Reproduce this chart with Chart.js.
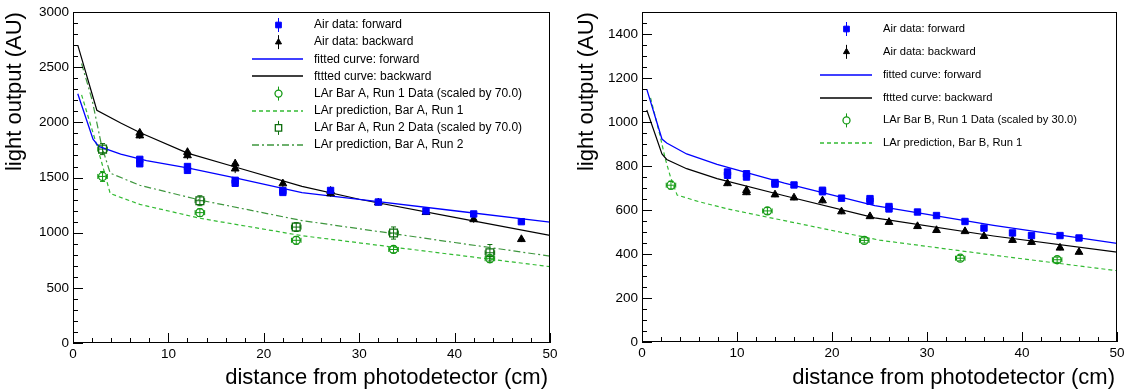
<!DOCTYPE html>
<html><head><meta charset="utf-8">
<script src="https://cdn.jsdelivr.net/npm/chart.js@4"></script>
<style>
html,body{margin:0;padding:0;background:#fff;overflow:hidden;}
#wrapL{position:absolute;left:0;top:0;width:564px;height:392px;}
#wrapR{position:absolute;left:564px;top:0;width:565px;height:392px;}
</style></head><body>
<div id="wrapL"><canvas id="cL" width="564" height="392"></canvas></div>
<div id="wrapR"><canvas id="cR" width="565" height="392"></canvas></div>
<script>
// ---------------- DATA ----------------
const xTicks = [0, 10, 20, 30, 40, 50];
const yTicksLeft = [0, 500, 1000, 1500, 2000, 2500, 3000];
const yTicksRight = [0, 200, 400, 600, 800, 1000, 1200, 1400];
const xTitle = "distance from photodetector (cm)";
const yTitle = "light output (AU)";

// Left panel (Bar A)
const legendLeft = ["Air data: forward", "Air data: backward", "fitted curve: forward", "fttted curve: backward",
  "LAr Bar A, Run 1 Data (scaled by 70.0)", "LAr prediction, Bar A, Run 1",
  "LAr Bar A, Run 2 Data (scaled by 70.0)", "LAr prediction, Bar A, Run 2"];
const L_fwdX = [7, 7, 12, 12, 17, 17, 22, 22, 27, 32, 37, 42, 47];
const L_fwdY = [1665, 1625, 1600, 1565, 1475, 1448, 1382, 1365, 1383, 1278, 1197, 1170, 1100];
const L_fwdEY = [25, 25, 25, 25, 22, 22, 22, 22, 20, 20, 20, 20, 20];
const L_bwdX = [7, 7, 12, 12, 17, 17, 22, 27, 27, 32, 37, 42, 47];
const L_bwdY = [1905, 1880, 1730, 1700, 1625, 1580, 1445, 1378, 1355, 1272, 1185, 1120, 940];
const L_bwdEY = [30, 30, 35, 35, 40, 40, 30, 30, 30, 25, 25, 30, 25];
const L_run1X = [3.1, 13.3, 23.4, 33.6, 43.7];
const L_run1Y = [1510, 1182, 931, 848, 764];
const L_run1EY = [45, 35, 35, 30, 35];
const L_run2X = [3.1, 13.3, 23.4, 33.6, 43.7];
const L_run2Y = [1758, 1290, 1051, 997, 818];
const L_run2EY = [50, 45, 40, 55, 75];
const L_fitFwdX = [0.5, 2.1, 2.7, 5, 7.7, 12, 17, 24, 30, 40, 50];
const L_fitFwdY = [2260, 1848, 1782, 1713, 1654, 1588, 1498, 1364, 1303, 1199, 1095];
const L_fitBwdX = [0.5, 2.5, 5, 7, 12, 17, 24, 30, 40, 50];
const L_fitBwdY = [2700, 2110, 1995, 1908, 1722, 1596, 1420, 1303, 1139, 976];
const L_pred1X = [0.9, 2.3, 3, 3.9, 7, 13.3, 24, 33.6, 40, 50];
const L_pred1Y = [2250, 1848, 1639, 1355, 1257, 1131, 973, 869, 800, 692];
const L_pred2X = [0.9, 2, 3, 3.9, 7, 13.3, 24, 33.6, 40, 50];
const L_pred2Y = [2534, 2205, 1788, 1540, 1430, 1296, 1110, 991, 911, 788];

// Right panel (Bar B)
const legendRight = ["Air data: forward", "Air data: backward", "fitted curve: forward", "fttted curve: backward",
  "LAr Bar B, Run 1 Data (scaled by 30.0)", "LAr prediction, Bar B, Run 1"];
const R_fwdX = [9, 9, 11, 11, 14, 14, 16, 19, 19, 21, 24, 24, 26, 26, 29, 31, 34, 36, 39, 41, 44, 46];
const R_fwdY = [773, 758, 765, 750, 725, 718, 714, 690, 683, 654, 652, 640, 616, 605, 591, 575, 548, 518, 496, 484, 484, 473];
const R_bwdX = [9, 11, 11, 14, 16, 19, 21, 24, 26, 29, 31, 34, 36, 39, 41, 44, 46];
const R_bwdY = [721, 690, 680, 670, 656, 643, 593, 571, 545, 526, 508, 503, 481, 463, 454, 428, 409];
const R_run1X = [3.05, 13.2, 23.4, 33.5, 43.7];
const R_run1Y = [713, 596, 462, 381, 374];
const R_run1EY = [18, 15, 12, 12, 12];
const R_fitFwdX = [0.5, 2.1, 2.6, 4.7, 7.9, 15, 24.5, 37, 50];
const R_fitFwdY = [1150, 923, 905, 855, 808, 722, 620, 530, 448];
const R_fitBwdX = [0.5, 2.1, 2.6, 4.7, 7.9, 15, 24.5, 37, 50];
const R_fitBwdY = [1055, 855, 830, 788, 743, 665, 564, 482, 409];
const R_predX = [0.9, 1.9, 2.45, 3, 3.7, 6, 9, 25, 37, 50];
const R_predY = [1110, 938, 833, 750, 668, 638, 605, 463, 395, 324];

// ---------------- STYLE / HELPERS ----------------
const FONT = '"Liberation Sans", Arial, Helvetica, sans-serif';
const BLUE = '#0000ff', BLACK = '#000000', GCIRC = '#129912', GSQ = '#0e6e0e', GDASH = '#33bb33', GDD = '#3e963e';
const CLEAR = 'rgba(0,0,0,0)';
const DASH = [4, 3], DASHDOT = [7, 3, 2, 3];

function pts(xs, ys) { return xs.map((x, i) => ({ x: x, y: ys[i] })); }
function fill(arr, v) { return arr.map(() => v); }

function makeFramePlugin(sp) {
  return {
    id: 'frameTicks',
    afterDraw(chart) {
      const { ctx, chartArea: a } = chart;
      const xs = chart.scales.x, ys = chart.scales.y;
      ctx.save();
      ctx.strokeStyle = '#000'; ctx.lineWidth = 1; ctx.setLineDash([]);
      ctx.strokeRect(Math.round(a.left) + 0.5, Math.round(a.top) + 0.5, Math.round(a.right - a.left) - 1, Math.round(a.bottom - a.top) - 1);
      ctx.beginPath();
      for (let v = xs.min; v <= xs.max + 1e-9; v += sp.xMinor) {
        const px = Math.round(xs.getPixelForValue(v)) + 0.5;
        const major = Math.abs(v / sp.xMajor - Math.round(v / sp.xMajor)) < 1e-6;
        const len = major ? 10 : 5;
        ctx.moveTo(px, a.bottom); ctx.lineTo(px, a.bottom - len);
      }
      for (let v = ys.min; v <= ys.max + 1e-9; v += sp.yMinor) {
        const py = Math.round(ys.getPixelForValue(v)) + 0.5;
        const major = Math.abs(v / sp.yMajor - Math.round(v / sp.yMajor)) < 1e-6;
        const len = major ? 10 : 5;
        ctx.moveTo(a.left, py); ctx.lineTo(a.left + len, py);
      }
      ctx.stroke();
      // axis titles
      ctx.fillStyle = '#000';
      ctx.font = '22px ' + FONT;
      ctx.textAlign = 'right'; ctx.textBaseline = 'middle';
      ctx.fillText(xTitle, a.right - 2, 378);
      ctx.save();
      ctx.translate(sp.yTitleX, a.top);
      ctx.rotate(-Math.PI / 2);
      ctx.textAlign = 'right'; ctx.textBaseline = 'middle';
      ctx.fillText(yTitle, 0, 0);
      ctx.restore();
      ctx.restore();
      // legend
      const lg = sp.legend;
      lg.items.forEach((it, i) => {
        const y = lg.y0 + i * lg.dy;
        ctx.save();
        ctx.font = lg.font + 'px ' + FONT;
        ctx.textAlign = 'left'; ctx.textBaseline = 'middle';
        ctx.fillStyle = '#000';
        ctx.fillText(it.label, lg.tx, y);
        ctx.restore();
        ctx.save();
        if (it.kind === 'line') {
          ctx.strokeStyle = it.color;
          ctx.lineWidth = 1.4;
          ctx.setLineDash(it.dash || []);
          ctx.beginPath();
          ctx.moveTo(lg.lx1, Math.round(y));
          ctx.lineTo(lg.lx2, Math.round(y));
          ctx.stroke();
        } else {
          ctx.strokeStyle = it.color;
          ctx.lineWidth = 1;
          ctx.setLineDash([]);
          ctx.beginPath();
          ctx.moveTo(lg.mx + 0.5, y - 7); ctx.lineTo(lg.mx + 0.5, y + 7);
          ctx.stroke();
          ctx.fillStyle = it.fill;
          ctx.lineWidth = it.bw || 1;
          Chart.helpers.drawPoint(ctx, { pointStyle: it.style, radius: it.r, borderWidth: it.bw || 1, rotation: 0 }, lg.mx + 0.5, y);
        }
        ctx.restore();
      });
    }
  };
}

const errPlugin = {
  id: 'errBars',
  beforeDatasetsDraw(chart) {
    const { ctx } = chart;
    const xs = chart.scales.x, ys = chart.scales.y;
    ctx.save();
    chart.data.datasets.forEach(ds => {
      if (!ds.errY) return;
      ctx.strokeStyle = ds.errColor; ctx.lineWidth = 1;
      ctx.beginPath();
      ds.data.forEach((p, i) => {
        const px = xs.getPixelForValue(p.x), py = ys.getPixelForValue(p.y);
        const y1 = ys.getPixelForValue(p.y - ds.errY[i]), y2 = ys.getPixelForValue(p.y + ds.errY[i]);
        const x1 = xs.getPixelForValue(p.x - ds.errX[i]), x2 = xs.getPixelForValue(p.x + ds.errX[i]);
        ctx.moveTo(px, y1); ctx.lineTo(px, y2);
        ctx.moveTo(x1, py); ctx.lineTo(x2, py);
        if (ds.caps) {
          ctx.moveTo(px - 2.5, y1); ctx.lineTo(px + 2.5, y1);
          ctx.moveTo(px - 2.5, y2); ctx.lineTo(px + 2.5, y2);
          ctx.moveTo(x1, py - 2.5); ctx.lineTo(x1, py + 2.5);
          ctx.moveTo(x2, py - 2.5); ctx.lineTo(x2, py + 2.5);
        }
      });
      ctx.stroke();
    });
    ctx.restore();
  }
};

function buildChart(id, spec) {
  const cv = document.getElementById(id);
  const W = cv.width, H = cv.height;
  const datasets = [];
  spec.points.forEach(p => datasets.push({
    data: pts(p.x, p.y), showLine: false, pointStyle: p.style, pointRadius: p.r,
    pointBackgroundColor: p.fill, pointBorderColor: p.color, pointBorderWidth: p.bw,
    errX: p.ex, errY: p.ey, errColor: p.color, caps: p.caps
  }));
  spec.curves.forEach(c => datasets.push({
    data: pts(c.x, c.y), showLine: true, pointRadius: 0, borderColor: c.color, borderWidth: c.w,
    borderDash: c.dash || [], fill: false, tension: 0
  }));
  return new Chart(cv, {
    type: 'scatter',
    data: { datasets },
    options: {
      responsive: false, animation: false, events: [],
      layout: { padding: { left: 0, top: spec.area.top, right: W - spec.area.right, bottom: 0 } },
      scales: {
        x: {
          type: 'linear', min: 0, max: 50,
          afterBuildTicks: s => { s.ticks = xTicks.map(v => ({ value: v })); },
          afterFit: s => { s.height = H - spec.area.bottom; },
          grid: { display: false, drawTicks: false }, border: { display: false },
          ticks: { font: { family: FONT, size: 13.5 }, color: '#000', padding: 3, maxRotation: 0, autoSkip: false,
                   callback: v => String(v) }
        },
        y: {
          type: 'linear', min: 0, max: spec.yMax,
          afterBuildTicks: s => { s.ticks = spec.yTicks.map(v => ({ value: v })); },
          afterFit: s => { s.width = spec.area.left; },
          grid: { display: false, drawTicks: false }, border: { display: false },
          ticks: { font: { family: FONT, size: 13.5 }, color: '#000', padding: 4, autoSkip: false,
                   callback: v => String(v) }
        }
      },
      plugins: { legend: { display: false }, tooltip: { enabled: false } }
    },
    plugins: [errPlugin, makeFramePlugin(spec)]
  });
}

buildChart('cL', {
  area: { left: 73, right: 550, top: 8, bottom: 343 },
  yMax: 3000, yTicks: yTicksLeft, xMinor: 2, xMajor: 10, yMinor: 100, yMajor: 500, yTitleX: 15,
  points: [
    { x: L_run1X, y: L_run1Y, ey: L_run1EY, ex: fill(L_run1X, 0.5), style: 'circle', r: 4, fill: CLEAR, color: GCIRC, bw: 1.3, caps: true },
    { x: L_run2X, y: L_run2Y, ey: L_run2EY, ex: fill(L_run2X, 0.5), style: 'rect', r: 5.5, fill: CLEAR, color: GSQ, bw: 1.3, caps: true },
    { x: L_fwdX, y: L_fwdY, ey: L_fwdEY, ex: fill(L_fwdX, 0.3), style: 'rect', r: 4.5, fill: BLUE, color: BLUE, bw: 1, caps: false },
    { x: L_bwdX, y: L_bwdY, ey: L_bwdEY, ex: fill(L_bwdX, 0.3), style: 'triangle', r: 4.5, fill: BLACK, color: BLACK, bw: 1, caps: false }
  ],
  curves: [
    { x: L_fitFwdX, y: L_fitFwdY, color: BLUE, w: 1.3 },
    { x: L_fitBwdX, y: L_fitBwdY, color: BLACK, w: 1.2 },
    { x: L_pred1X, y: L_pred1Y, color: GDASH, w: 1.2, dash: DASH },
    { x: L_pred2X, y: L_pred2Y, color: GDD, w: 1.2, dash: DASHDOT }
  ],
  legend: {
    font: 12, mx: 278, lx1: 252, lx2: 303, tx: 314, y0: 25, dy: 17.15,
    items: [
      { label: legendLeft[0], kind: 'marker', style: 'rect', r: 4, color: BLUE, fill: BLUE },
      { label: legendLeft[1], kind: 'marker', style: 'triangle', r: 3.5, color: BLACK, fill: BLACK },
      { label: legendLeft[2], kind: 'line', color: BLUE },
      { label: legendLeft[3], kind: 'line', color: BLACK },
      { label: legendLeft[4], kind: 'marker', style: 'circle', r: 3.5, color: GCIRC, fill: '#ffffff', bw: 1.3 },
      { label: legendLeft[5], kind: 'line', color: GDASH, dash: DASH },
      { label: legendLeft[6], kind: 'marker', style: 'rect', r: 4.5, color: GSQ, fill: '#ffffff', bw: 1.3 },
      { label: legendLeft[7], kind: 'line', color: GDD, dash: DASHDOT }
    ]
  }
});

buildChart('cR', {
  area: { left: 78, right: 553, top: 8, bottom: 342 },
  yMax: 1500, yTicks: yTicksRight, xMinor: 2, xMajor: 10, yMinor: 50, yMajor: 200, yTitleX: 23,
  points: [
    { x: R_run1X, y: R_run1Y, ey: R_run1EY, ex: fill(R_run1X, 0.5), style: 'circle', r: 4, fill: CLEAR, color: GCIRC, bw: 1.3, caps: true },
    { x: R_fwdX, y: R_fwdY, ey: fill(R_fwdX, 10), ex: fill(R_fwdX, 0.3), style: 'rect', r: 4.5, fill: BLUE, color: BLUE, bw: 1, caps: false },
    { x: R_bwdX, y: R_bwdY, ey: fill(R_bwdX, 12), ex: fill(R_bwdX, 0.3), style: 'triangle', r: 4.5, fill: BLACK, color: BLACK, bw: 1, caps: false }
  ],
  curves: [
    { x: R_fitFwdX, y: R_fitFwdY, color: BLUE, w: 1.3 },
    { x: R_fitBwdX, y: R_fitBwdY, color: BLACK, w: 1.2 },
    { x: R_predX, y: R_predY, color: GDASH, w: 1.2, dash: DASH }
  ],
  legend: {
    font: 11.2, mx: 282, lx1: 256, lx2: 308, tx: 319, y0: 29, dy: 22.85,
    items: [
      { label: legendRight[0], kind: 'marker', style: 'rect', r: 4, color: BLUE, fill: BLUE },
      { label: legendRight[1], kind: 'marker', style: 'triangle', r: 3.5, color: BLACK, fill: BLACK },
      { label: legendRight[2], kind: 'line', color: BLUE },
      { label: legendRight[3], kind: 'line', color: BLACK },
      { label: legendRight[4], kind: 'marker', style: 'circle', r: 3.5, color: GCIRC, fill: '#ffffff', bw: 1.3 },
      { label: legendRight[5], kind: 'line', color: GDASH, dash: DASH }
    ]
  }
});
</script>
</body></html>
